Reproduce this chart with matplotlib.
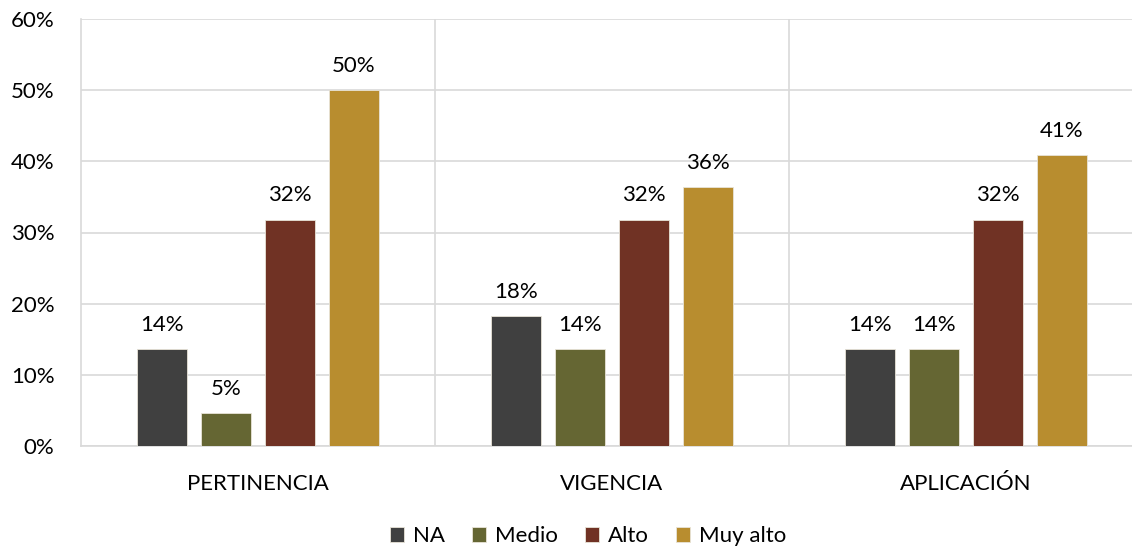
import matplotlib.pyplot as plt
import numpy as np
from matplotlib.ticker import FuncFormatter

plt.rcParams['font.family'] = ['Lato', 'DejaVu Sans']

categories = ['PERTINENCIA', 'VIGENCIA', 'APLICACIÓN']
series = ['NA', 'Medio', 'Alto', 'Muy alto']
na = [13.6, 18.2, 13.6]
medio = [4.6, 13.6, 13.6]
alto = [31.8, 31.8, 31.8]
muy_alto = [50.0, 36.4, 40.9]
colors = ['#404040', '#656633', '#703224', '#B88D2F']

values = [na, medio, alto, muy_alto]

fig = plt.figure(figsize=(11.32, 5.5), dpi=100)
ax = fig.add_axes([81 / 1132, 104 / 550, 1062 / 1132, 427 / 550])

x = np.arange(len(categories)) + 0.5
slot = 64 / 354
width = 50 / 354
for i, (name, vals) in enumerate(zip(series, values)):
    pos = x + (i - 1.5) * slot
    ax.bar(pos, vals, width, color=colors[i], label=name,
           edgecolor='#e8e4d8', linewidth=0.6, zorder=3)
    for p, v in zip(pos, vals):
        ax.text(p, v + 2.0, f'{v:.0f}%', ha='center', va='bottom',
                fontsize=16, color='black')

ax.set_xlim(0, 3)
ax.set_ylim(0, 60)
ax.set_yticks(np.arange(0, 61, 10))
ax.yaxis.set_major_formatter(FuncFormatter(lambda v, _: f'{v:.0f}%'))
ax.set_xticks(x)
ax.set_xticklabels(categories)
ax.tick_params(axis='both', length=0, labelsize=16)
ax.tick_params(axis='x', pad=20)
ax.tick_params(axis='y', pad=19)

ax.grid(axis='y', color='#d9d9d9', linewidth=1.2, zorder=0)
for b in [1, 2]:
    ax.axvline(b, color='#d9d9d9', linewidth=1.2, zorder=0)
for s in ['top', 'right']:
    ax.spines[s].set_visible(False)
for s in ['left', 'bottom']:
    ax.spines[s].set_color('#d9d9d9')
    ax.spines[s].set_linewidth(1.2)

fig.legend(loc='center', bbox_to_anchor=(588 / 1132, 14 / 550), ncol=4,
           frameon=False, fontsize=16, handlelength=0.65, handleheight=0.65,
           columnspacing=1.2, handletextpad=0.4)

fig.savefig('out.png', dpi=100)
